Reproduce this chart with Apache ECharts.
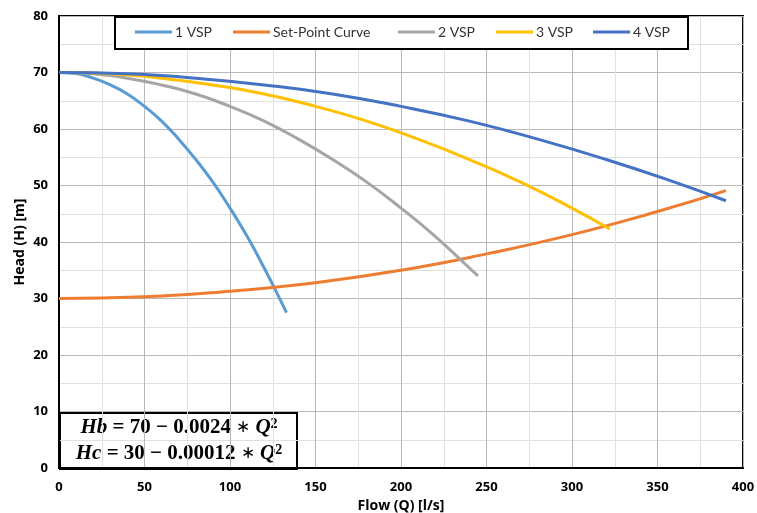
<!DOCTYPE html>
<html><head><meta charset="utf-8">
<script src="https://cdn.jsdelivr.net/npm/echarts@6/dist/echarts.min.js"></script>
<style>html,body{margin:0;padding:0;background:#fff}#c{width:757px;height:513px}</style>
</head><body><div id="c"></div>
<script>
var seriesNames = ['1 VSP', 'Set-Point Curve', '2 VSP', '3 VSP', '4 VSP'];
var vsp1Q = [0,10,20,30,40,50,60,70,80,90,100,110,120,130,133];
var vsp1H = [70,69.8,69.0,67.8,66.2,64.0,61.4,58.2,54.6,50.6,46.0,41.0,35.4,29.4,27.5];
var setQ = [0,50,100,150,200,250,300,350,390];
var setH = [30,30.3,31.3,32.8,35.0,37.9,41.3,45.4,49.1];
var vsp2Q = [0,20,40,60,80,100,120,140,160,180,200,220,240,245];
var vsp2H = [70,69.8,69.0,67.8,66.2,64.0,61.4,58.2,54.6,50.6,46.0,41.0,35.4,34.0];
var vsp3Q = [0,30,60,90,120,150,180,210,240,270,300,322];
var vsp3H = [70,69.8,69.0,67.8,66.2,64.0,61.4,58.2,54.6,50.6,46.0,42.3];
var vsp4Q = [0,40,80,120,160,200,240,280,320,360,390];
var vsp4H = [70,69.8,69.0,67.8,66.2,64.0,61.4,58.2,54.6,50.6,47.3];
var xTicks = [0,50,100,150,200,250,300,350,400];
var yTicks = [0,10,20,30,40,50,60,70,80];
var colors = ['#5B9BD5','#ED7D31','#A5A5A5','#FFC000','#4472C4'];
var legendLefts = [135, 233, 398, 496, 593];

function pairs(q,h){return q.map(function(v,i){return [v,h[i]];});}
var dataSets = [pairs(vsp1Q,vsp1H), pairs(setQ,setH), pairs(vsp2Q,vsp2H), pairs(vsp3Q,vsp3H), pairs(vsp4Q,vsp4H)];

var chart = echarts.init(document.getElementById('c'));
var font = 'Lato, "Open Sans", sans-serif';
var bfont = '"Open Sans", sans-serif';
var serif = '"Liberation Serif", serif';
var rich = {
  i: {fontFamily: serif, fontStyle: 'italic', fontWeight: 'bold', fontSize: 21, fill: '#000'},
  n: {fontFamily: serif, fontWeight: 'bold', fontSize: 21, fill: '#000'},
  a: {fontFamily: serif, fontWeight: 'normal', fontSize: 17, fill: '#000'},
  s: {fontFamily: serif, fontWeight: 'bold', fontSize: 14, fill: '#000', verticalAlign: 'top', lineHeight: 12}
};
chart.setOption({
  animation: false,
  textStyle: {fontFamily: font},
  grid: {left: 59, right: 14, top: 16, bottom: 45, outerBoundsMode: 'none', show: true, borderColor: '#000', borderWidth: 2, backgroundColor: 'transparent'},
  legend: seriesNames.map(function(n,i){
    return {data: [n], left: legendLefts[i], top: 25, padding: 0, itemWidth: 37, itemHeight: 3, icon: 'rect', itemGap: 0,
      textStyle: {fontSize: 14, color: '#333', fontFamily: font, padding: [0,0,0,-2]}, z: 20};
  }),
  xAxis: {
    type: 'value', min: xTicks[0], max: xTicks[xTicks.length-1], interval: 50,
    name: 'Flow (Q) [l/s]', nameLocation: 'middle', nameGap: 26,
    nameTextStyle: {fontWeight: 'bold', fontSize: 14, color: '#000', fontFamily: bfont},
    axisLine: {show: true, lineStyle: {color: '#000', width: 2}},
    axisTick: {show: false},
    axisLabel: {fontWeight: 'bold', fontSize: 13, color: '#000', margin: 13, fontFamily: bfont},
    splitLine: {show: true, lineStyle: {color: '#b8b8b8', width: 1}},
    minorTick: {show: false, splitNumber: 2},
    minorSplitLine: {show: true, lineStyle: {color: '#e0e0e0', width: 1}}
  },
  yAxis: {
    type: 'value', min: yTicks[0], max: yTicks[yTicks.length-1], interval: 10,
    name: 'Head (H) [m]', nameLocation: 'middle', nameGap: 32, nameMoveOverlap: false,
    nameTextStyle: {fontWeight: 'bold', fontSize: 14, color: '#000', fontFamily: bfont},
    axisLine: {show: true, lineStyle: {color: '#000', width: 2}},
    axisTick: {show: false},
    axisLabel: {fontWeight: 'bold', fontSize: 13, color: '#000', margin: 11, fontFamily: bfont},
    splitLine: {show: true, lineStyle: {color: '#b8b8b8', width: 1}},
    minorTick: {show: false, splitNumber: 2},
    minorSplitLine: {show: true, lineStyle: {color: '#e0e0e0', width: 1}}
  },
  series: seriesNames.map(function(n,i){
    return {name: n, type: 'line', data: dataSets[i], smooth: true, showSymbol: false,
      lineStyle: {color: colors[i], width: 3}, itemStyle: {color: colors[i]}, z: 3};
  }),
  graphic: [
    {type: 'rect', left: 114, top: 16, z: 10, shape: {width: 573, height: 32}, style: {fill: '#fff', stroke: '#000', lineWidth: 2}},
    {
    type: 'group', left: 59, top: 412, z: 100,
    children: [
      {type: 'rect', shape: {x: 0, y: 0, width: 237, height: 56}, style: {fill: '#fff', stroke: '#000', lineWidth: 2}},
      {type: 'text', x: 119, y: 15, style: {text: '{i|Hb}{n| = 70 − 0.0024 }{a|∗}{n| }{i|Q}{s|2}', align: 'center', verticalAlign: 'middle', rich: rich}},
      {type: 'text', x: 119, y: 41, style: {text: '{i|Hc}{n| = 30 − 0.00012 }{a|∗}{n| }{i|Q}{s|2}', align: 'center', verticalAlign: 'middle', rich: rich}}
    ]
  }]
});
</script></body></html>
